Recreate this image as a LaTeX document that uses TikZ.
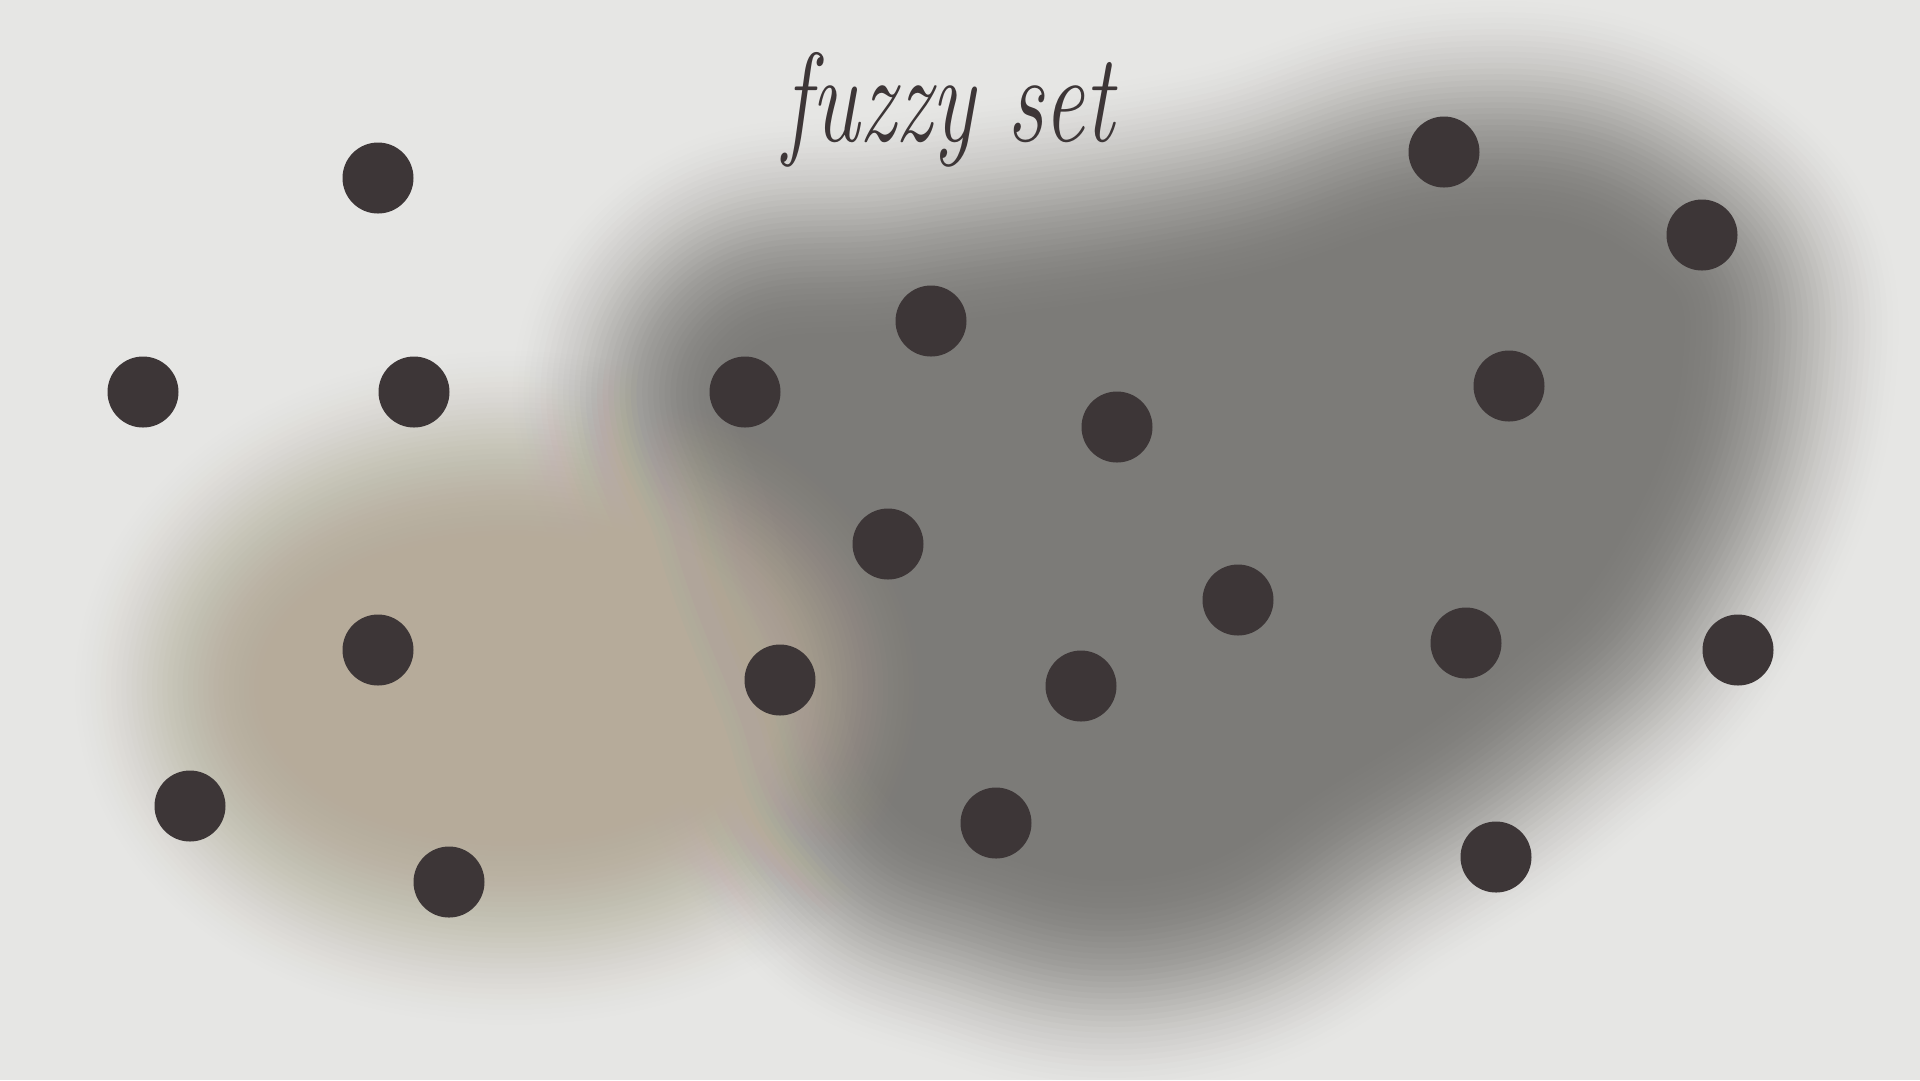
\documentclass[tikz,border=0pt]{standalone}
\usepackage{tikz}
\usetikzlibrary{positioning}
\definecolor{paper}{RGB}{230,230,228}
\definecolor{ink}{RGB}{61,54,55}
\definecolor{smoke}{RGB}{120,119,116}
\definecolor{sand}{RGB}{182,171,154}
\tikzset{
  dot/.style={circle, fill=ink, inner sep=0pt, minimum size=7.1mm}
}
% a soft-edged region: colour, peak opacity, path, blur width (px)
\newcommand{\fuzzy}[4]{%
  \foreach \j in {1,...,40}{
    \pgfmathsetmacro\fa{#2*(3*((\j-1)/40)^2-2*((\j-1)/40)^3)}
    \pgfmathsetmacro\fb{#2*(3*(\j/40)^2-2*(\j/40)^3)}
    \pgfmathsetmacro\op{1-(1-\fb)/(1-\fa)}
    \pgfmathsetmacro\lw{#4/39*(40-\j)}
    \begin{scope}[transparency group, opacity=\op]
      \filldraw[#1, line width=\lw*0.1mm, line join=round] #3;
    \end{scope}
  }}
% outlines of the fuzzy regions (pixel coordinates, y downwards)
\def\graypath{plot[smooth cycle, tension=0.8] coordinates {(740,360) (931,325) (1224,280) (1469,216) (1640,260) (1682,367) (1614,551) (1500,670) (1340,780) (1163,875) (980,850) (880,790) (830,670) (770,510)}}
\def\sandpath{(510,688) ellipse [x radius=240, y radius=142]}

\begin{document}
\begin{tikzpicture}[x=0.1mm, y=-0.1mm]
\fill[paper] (0,0) rectangle (1920,1080);
\useasboundingbox (0,0) rectangle (1920,1080);

% soft regions
\fuzzy{smoke}{0.9}{\graypath}{440}
\fuzzy{sand}{0.95}{\sandpath}{400}

\node[ink, anchor=base, xscale=0.72, font=\fontsize{36}{40}\selectfont\itshape] (title) at (949,141) {fuzzy set};

% the elements
\node[dot] (p1) at (378,178) {};
\node[dot] (p2) at (1444,152) {};
\node[dot] (p3) at (1702,235) {};
\node[dot] (p4) at (931,321) {};
\node[dot] (p5) at (143,392) {};
\node[dot] (p6) at (414,392) {};
\node[dot] (p7) at (745,392) {};
\node[dot] (p8) at (1117,427) {};
\node[dot] (p9) at (1509,386) {};
\node[dot] (p10) at (888,544) {};
\node[dot] (p11) at (1238,600) {};
\node[dot] (p12) at (378,650) {};
\node[dot] (p13) at (780,680) {};
\node[dot] (p14) at (1081,686) {};
\node[dot] (p15) at (1466,643) {};
\node[dot] (p16) at (1738,650) {};
\node[dot] (p17) at (190,806) {};
\node[dot] (p18) at (996,823) {};
\node[dot] (p19) at (449,882) {};
\node[dot] (p20) at (1496,857) {};
\end{tikzpicture}
\end{document}
